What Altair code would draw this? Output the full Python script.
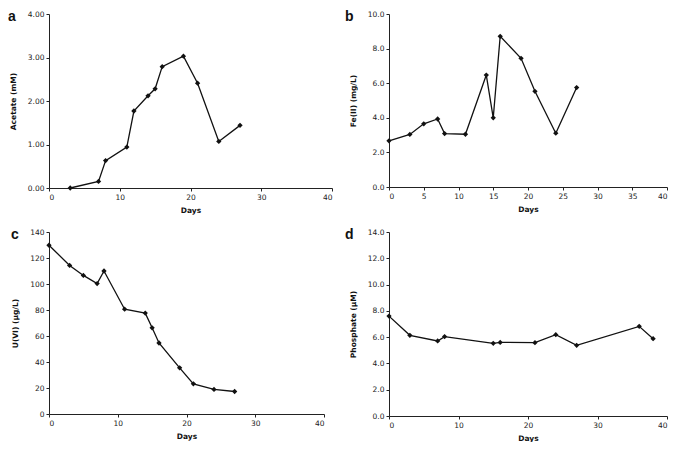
import altair as alt
import pandas as pd

# Panel a: Acetate
a_days = [3, 7, 8, 11, 12, 14, 15, 16, 19, 21, 24, 27]
a_vals = [0.00, 0.15, 0.63, 0.94, 1.77, 2.12, 2.28, 2.79, 3.03, 2.41, 1.07, 1.44]

# Panel b: Fe(II)
b_days = [0, 3, 5, 7, 8, 11, 14, 15, 16, 19, 21, 24, 27]
b_vals = [2.67, 3.04, 3.65, 3.93, 3.09, 3.05, 6.47, 4.00, 8.71, 7.44, 5.53, 3.11, 5.75]

# Panel c: U(VI)
c_days = [0, 3, 5, 7, 8, 11, 14, 15, 16, 19, 21, 24, 27]
c_vals = [129.8, 114.3, 106.6, 100.3, 110.0, 80.6, 77.6, 66.3, 54.6, 35.5, 23.2, 18.9, 17.3]

# Panel d: Phosphate
d_days = [0, 3, 7, 8, 15, 16, 21, 24, 27, 36, 38]
d_vals = [7.60, 6.14, 5.71, 6.04, 5.53, 5.60, 5.58, 6.19, 5.38, 6.82, 5.88]

FONT = "DejaVu Sans"


def panel(days, vals, letter, ytitle, ymax, ystep, yfmt, xstep, w, h, lx, ly):
    df = pd.DataFrame({"Days": days, "Value": vals})
    yticks = [round(i * ystep, 4) for i in range(int(round(ymax / ystep)) + 1)]
    xticks = list(range(0, 41, xstep))
    base = alt.Chart(df)
    line = base.mark_line(
        color="#111111", strokeWidth=1.3,
        point=alt.OverlayMarkDef(shape="diamond", filled=True, color="#111111", size=28),
    ).encode(
        x=alt.X("Days:Q", scale=alt.Scale(domain=[0, 40], nice=False),
                axis=alt.Axis(title="Days", values=xticks, format="d")),
        y=alt.Y("Value:Q", scale=alt.Scale(domain=[0, ymax], nice=False),
                axis=alt.Axis(title=ytitle, values=yticks, format=yfmt)),
    )
    lab = alt.Chart(pd.DataFrame({"t": [letter]})).mark_text(
        font="Liberation Sans", fontWeight="bold", fontSize=14,
        align="left", baseline="top", color="#111111",
    ).encode(text="t:N", x=alt.value(lx), y=alt.value(ly))
    return alt.layer(line, lab).properties(width=w, height=h)


pa = panel(a_days, a_vals, "a", "Acetate (mM)", 4.0, 1.0, ".2f", 10, 283, 174, -41, -4)
pb = panel(b_days, b_vals, "b", "Fe(II) (mg/L)", 10.0, 2.0, ".1f", 5, 278, 173, -44, -4)
pc = panel(c_days, c_vals, "c", "U(VI) (\u03bcg/L)", 140, 20, "d", 10, 275, 182, -38, -4)
pd_ = panel(d_days, d_vals, "d", "Phosphate (\u03bcM)", 14.0, 2.0, ".1f", 10, 278, 184, -44, -4)

chart = alt.concat(
    pa, pb, pc, pd_, columns=2,
    spacing={"row": 14, "column": 12},
).properties(
    padding={"top": 2, "left": 0, "right": 0, "bottom": 0}, align="none"
).configure_view(stroke=None).configure_axis(
    grid=False,
    domainColor="#222222",
    domainWidth=1,
    tickColor="#222222",
    tickSize=3,
    labelFont=FONT,
    labelFontSize=7.5,
    labelColor="#222222",
    titleFont=FONT,
    titleFontSize=7.5,
    titleFontWeight="bold",
    titleColor="#111111",
    labelPadding=2,
).configure_axisX(titlePadding=6).configure_axisY(titlePadding=10)

chart.save("out.html", embed_options={"renderer": "svg", "actions": False})
